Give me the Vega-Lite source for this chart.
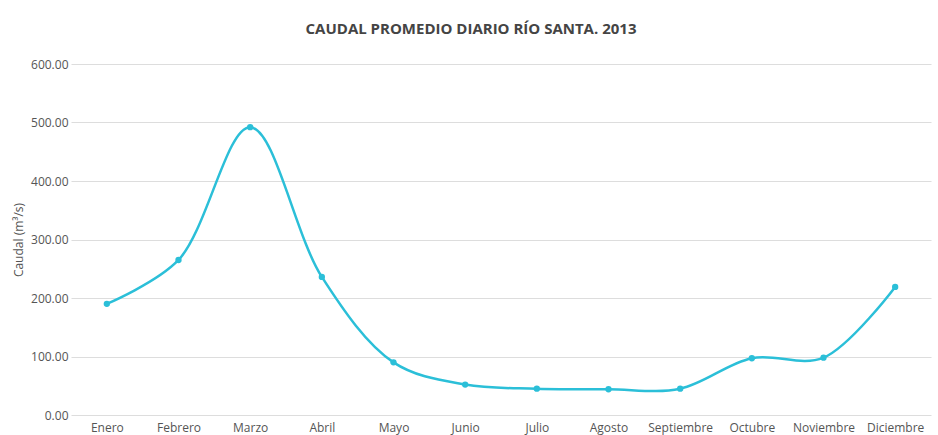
{
  "$schema": "https://vega.github.io/schema/vega-lite/v6.json",
  "autosize": "none",
  "width": 860,
  "height": 351,
  "padding": {"left": 71, "top": 64, "right": 7, "bottom": 20},
  "background": "white",
  "title": {
    "text": "CAUDAL PROMEDIO DIARIO RÍO SANTA. 2013",
    "font": "Open Sans",
    "fontSize": 15,
    "fontWeight": "bold",
    "color": "#444444",
    "anchor": "middle",
    "dx": -30,
    "offset": 21
  },
  "data": {
    "values": [
      {"mes": "Enero", "caudal": 190},
      {"mes": "Febrero", "caudal": 265},
      {"mes": "Marzo", "caudal": 492},
      {"mes": "Abril", "caudal": 236},
      {"mes": "Mayo", "caudal": 90},
      {"mes": "Junio", "caudal": 52},
      {"mes": "Julio", "caudal": 45},
      {"mes": "Agosto", "caudal": 44},
      {"mes": "Septiembre", "caudal": 45},
      {"mes": "Octubre", "caudal": 97},
      {"mes": "Noviembre", "caudal": 98},
      {"mes": "Diciembre", "caudal": 219}
    ]
  },
  "encoding": {
    "x": {
      "field": "mes",
      "type": "ordinal",
      "sort": null,
      "scale": {"type": "point", "padding": 0.5},
      "axis": {
        "title": null,
        "labelAngle": 0,
        "ticks": false,
        "domain": false,
        "labelPadding": 7,
        "labelFont": "Open Sans",
        "labelFontSize": 12,
        "labelColor": "#555555"
      }
    },
    "y": {
      "field": "caudal",
      "type": "quantitative",
      "scale": {"domain": [0, 600]},
      "axis": {
        "title": "Caudal (m³/s)",
        "titleFont": "Open Sans",
        "titleFontSize": 12,
        "titleFontWeight": "normal",
        "titleColor": "#555555",
        "titlePadding": 5,
        "values": [0, 100, 200, 300, 400, 500, 600],
        "format": ".2f",
        "ticks": false,
        "domain": false,
        "labelPadding": 3,
        "labelFont": "Open Sans",
        "labelFontSize": 12,
        "labelColor": "#555555",
        "gridColor": "#dddddd"
      }
    }
  },
  "layer": [
    {
      "mark": {"type": "line", "interpolate": "catmull-rom", "color": "#2BBFD8", "strokeWidth": 2.5}
    },
    {
      "mark": {"type": "point", "filled": true, "color": "#2BBFD8", "size": 40, "opacity": 1}
    }
  ],
  "config": {"view": {"stroke": null}}
}
